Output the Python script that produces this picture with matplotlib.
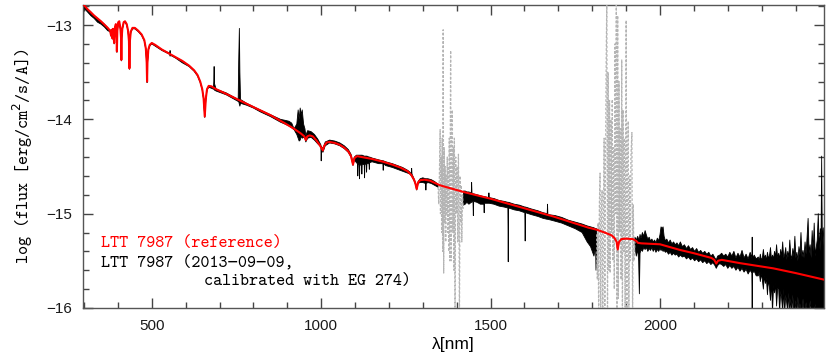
import numpy as np
import matplotlib
matplotlib.use("Agg")
import matplotlib.pyplot as plt
from matplotlib.ticker import MultipleLocator

plt.rcParams['font.family'] = ['Liberation Sans', 'DejaVu Sans']

# reference spectrum (red), wavelength in nm, log flux
red_wl = [298, 310, 330, 350, 370, 377, 379.8, 381.5, 383.5, 385.5, 388.9, 391.5,
          394, 395.8, 397.0, 398.3, 401, 404, 407.5, 409.3, 410.2, 411.1, 413, 417,
          421, 426, 430, 432.6, 434.0, 435.4, 438, 443, 450, 460, 470, 478, 482.5,
          485, 486.1, 487.2, 489.8, 494, 500, 510, 530, 550, 570, 590, 610, 625,
          635, 643, 649, 653, 656.3, 659.5, 663, 668, 676, 690, 720, 760, 800, 850,
          892, 920, 940, 950, 954.6, 959, 966, 975, 985, 995, 1000, 1004.9, 1009,
          1016, 1025, 1040, 1055, 1068, 1080, 1088, 1093.8, 1098, 1106, 1120, 1150,
          1183, 1210, 1233, 1255, 1266, 1274, 1278, 1281.8, 1286, 1292, 1305, 1321,
          1351, 1385, 1420, 1498, 1587, 1685, 1764, 1790, 1813, 1840, 1857, 1866,
          1872, 1875.1, 1879, 1886, 1900, 1920, 1930, 1935, 1945, 2000, 2059, 2100,
          2137, 2152, 2160, 2166, 2171, 2182, 2236, 2334, 2400, 2484]
red_flux = [-12.78, -12.83, -12.90, -12.96, -13.03, -13.06, -13.11, -13.05, -13.14,
            -13.04, -13.19, -13.02, -12.99, -13.06, -13.28, -13.06, -12.97, -12.96,
            -13.04, -13.14, -13.37, -13.14, -13.04, -12.97, -12.96, -12.99, -13.06,
            -13.17, -13.46, -13.17, -13.07, -13.03, -13.03, -13.06, -13.10, -13.16,
            -13.25, -13.40, -13.60, -13.40, -13.26, -13.21, -13.19, -13.21, -13.26,
            -13.30, -13.34, -13.38, -13.43, -13.48, -13.53, -13.60, -13.68, -13.78,
            -13.97, -13.78, -13.68, -13.645, -13.65, -13.68, -13.73, -13.80, -13.87,
            -13.955, -14.04, -14.10, -14.15, -14.18, -14.22, -14.18, -14.17, -14.18,
            -14.22, -14.27, -14.30, -14.33, -14.28, -14.245, -14.24, -14.25, -14.27,
            -14.30, -14.34, -14.39, -14.48, -14.41, -14.39, -14.40, -14.42, -14.45,
            -14.48, -14.51, -14.55, -14.59, -14.64, -14.68, -14.74, -14.67, -14.645,
            -14.64, -14.65, -14.70, -14.735, -14.77, -14.84, -14.93, -15.03, -15.12,
            -15.15, -15.17, -15.205, -15.23, -15.26, -15.30, -15.38, -15.30, -15.27,
            -15.265, -15.27, -15.29, -15.31, -15.315, -15.325, -15.385, -15.42,
            -15.455, -15.47, -15.49, -15.53, -15.50, -15.49, -15.525, -15.58, -15.63,
            -15.70]

# observed spectrum (black): upper and lower edge of the noise, nan = telluric gap
obs_wl = [298, 299.5, 310, 320, 330, 340, 350, 360, 370, 377,
          379.8, 381.5, 383.5, 385.5, 388.9, 391.5, 394, 395.8, 397.0, 398.3,
          401, 404, 407.5, 409.3, 410.2, 411.1, 413, 417, 421, 426,
          430, 432.6, 434.0, 435.4, 438, 443, 450, 460, 470, 478,
          482.5, 485, 486.1, 487.2, 489.8, 494, 500, 530, 553, 554,
          555, 570, 590, 610, 625, 635, 643, 649, 653, 656.3,
          659.5, 663, 668, 676, 682, 683, 684, 685, 690, 705,
          720, 740, 755, 756.5, 758.5, 760, 762, 780, 800, 820,
          850, 880, 893, 905, 913, 920, 928, 932, 935, 938,
          941, 944, 948, 952, 954.6, 960, 970, 980, 990, 999,
          1000, 1001, 1005, 1012, 1025, 1040, 1055, 1068, 1080, 1088,
          1093.8, 1098, 1104, 1107, 1108, 1109, 1112, 1113, 1114, 1119,
          1120, 1121, 1127, 1128, 1129, 1133, 1134, 1135, 1141, 1142,
          1143, 1150, 1160, 1170, 1182, 1183, 1184, 1190, 1210, 1225,
          1240, 1255, 1262, 1266, 1267, 1268, 1274, 1278, 1281.8, 1286,
          1292, 1300, 1308, 1309, 1310, 1315, 1325, 1335, 1345,
          np.nan,
          1420, 1425, 1430, 1436, 1443, 1444, 1445, 1448, 1449, 1450,
          1460, 1470, 1480, 1481, 1482, 1494, 1495, 1496, 1510, 1525,
          1540, 1551, 1552, 1553, 1570, 1585, 1601, 1602, 1603, 1620,
          1640, 1655, 1667, 1668, 1669, 1690, 1710, 1730, 1750, 1770,
          1785, 1795, 1805, 1810, 1811, 1813,
          np.nan,
          1926, 1930, 1934, 1937, 1939, 1941, 1944, 1948, 1952, 1956,
          1960, 1964, 1968, 1972, 1976, 1980, 1984, 1988, 1992, 1996,
          2000, 2003, 2006, 2009, 2012, 2016, 2020, 2025, 2030, 2035,
          2040, 2045, 2050, 2055, 2060, 2066, 2072, 2078, 2084, 2090,
          2096, 2102, 2108, 2114, 2120, 2126, 2132, 2138, 2144, 2150,
          2156, 2162, 2166, 2170, 2176, 2182, 2188, 2194, 2200, 2206,
          2212, 2218, 2224, 2230, 2236, 2242, 2248, 2254, 2260, 2266,
          2271, 2272, 2273, 2278, 2284,
          2290, 2293, 2296, 2299, 2302, 2305, 2308, 2311, 2314, 2317,
          2320, 2323, 2326, 2329, 2332, 2335, 2338, 2341, 2344, 2347,
          2350, 2353, 2356, 2359, 2362, 2365, 2368, 2371, 2374, 2377,
          2380, 2383, 2386, 2389, 2392, 2395, 2398, 2401, 2404, 2407,
          2410, 2413, 2416, 2419, 2422, 2425, 2428, 2431, 2434, 2437,
          2440, 2443, 2446, 2449, 2452, 2455, 2458, 2461, 2464, 2467,
          2470, 2473, 2475, 2477, 2479, 2482, 2484]
obs_hi = [-12.80, -12.79, -12.83, -12.86, -12.90, -12.93, -12.96, -12.99, -13.03, -13.06,
          -13.11, -13.05, -13.14, -13.04, -13.19, -13.02, -12.99, -13.06, -13.28, -13.06,
          -12.97, -12.96, -13.04, -13.14, -13.37, -13.14, -13.04, -12.97, -12.96, -12.99,
          -13.06, -13.17, -13.46, -13.17, -13.07, -13.03, -13.03, -13.06, -13.10, -13.16,
          -13.25, -13.40, -13.60, -13.40, -13.26, -13.21, -13.19, -13.26, -13.30, -13.27,
          -13.31, -13.34, -13.38, -13.43, -13.48, -13.53, -13.60, -13.68, -13.78, -13.97,
          -13.78, -13.68, -13.645, -13.65, -13.665, -13.60, -13.44, -13.62, -13.68, -13.70,
          -13.72, -13.76, -13.79, -13.40, -13.035, -13.50, -13.79, -13.83, -13.865, -13.90,
          -13.95, -14.00, -14.01, -14.02, -14.04, -14.10, -14.05, -13.90, -14.00, -13.88,
          -13.95, -13.90, -14.05, -14.10, -14.17, -14.12, -14.13, -14.16, -14.21, -14.27,
          -14.29, -14.29, -14.31, -14.24, -14.22, -14.23, -14.25, -14.28, -14.32, -14.37,
          -14.46, -14.40, -14.38, -14.38, -14.38, -14.38, -14.38, -14.38, -14.38, -14.38,
          -14.38, -14.38, -14.39, -14.39, -14.39, -14.39, -14.39, -14.39, -14.40, -14.40,
          -14.40, -14.41, -14.42, -14.43, -14.44, -14.44, -14.44, -14.45, -14.47, -14.49,
          -14.51, -14.54, -14.56, -14.58, -14.52, -14.58, -14.63, -14.67, -14.73, -14.66,
          -14.63, -14.62, -14.63, -14.63, -14.63, -14.63, -14.64, -14.66, -14.69,
          np.nan,
          -14.76, -14.76, -14.77, -14.77, -14.78, -14.67, -14.78, -14.79, -14.79, -14.79,
          -14.80, -14.81, -14.82, -14.82, -14.82, -14.83, -14.78, -14.83, -14.84, -14.86,
          -14.87, -14.88, -14.88, -14.88, -14.90, -14.91, -14.93, -14.93, -14.93, -14.95,
          -14.97, -14.99, -15.00, -14.90, -15.01, -15.02, -15.04, -15.07, -15.09, -15.11,
          -15.13, -15.14, -15.15, -15.16, -15.16, -15.16,
          np.nan,
          -15.25, -15.28, -15.24, -15.27, -15.27, -15.22, -15.26, -15.20, -15.24, -15.18,
          -15.23, -15.27, -15.25, -15.29, -15.27, -15.30, -15.28, -15.31, -15.26, -15.29,
          -15.22, -15.14, -15.16, -15.14, -15.24, -15.29, -15.27, -15.31, -15.28, -15.32,
          -15.30, -15.33, -15.31, -15.34, -15.30, -15.35, -15.33, -15.37, -15.34, -15.38,
          -15.36, -15.40, -15.37, -15.41, -15.39, -15.42, -15.40, -15.43, -15.41, -15.45,
          -15.43, -15.47, -15.49, -15.45, -15.44, -15.42, -15.45, -15.43, -15.46, -15.41,
          -15.45, -15.40, -15.47, -15.42, -15.46, -15.39, -15.47, -15.43, -15.48, -15.41,
          -15.47, -15.25, -15.47, -15.44, -15.48,
          -15.46, -15.50, -15.43, -15.49, -15.47, -15.38, -15.48, -15.44, -15.50, -15.41,
          -15.47, -15.45, -15.36, -15.49, -15.44, -15.48, -15.40, -15.46, -15.33, -15.47,
          -15.42, -15.48, -15.38, -15.45, -15.30, -15.47, -15.43, -15.36, -15.49, -15.40,
          -15.46, -15.28, -15.44, -15.48, -15.37, -15.45, -15.24, -15.47, -15.41, -15.50,
          -15.35, -15.44, -15.20, -15.46, -15.39, -15.47, -15.30, -15.43, -15.25, -15.05,
          -15.42, -15.33, -15.47, -15.18, -15.40, -15.10, -15.45, -15.36, -15.28, -15.00,
          -15.38, -15.16, -15.40, -14.39, -15.30, -15.15, -15.35]
obs_lo = [-13.76, -12.82, -12.86, -12.90, -12.93, -12.97, -12.99, -13.02, -13.06, -13.07,
          -13.12, -13.06, -13.15, -13.05, -13.20, -13.03, -13.00, -13.07, -13.29, -13.07,
          -12.98, -12.97, -13.05, -13.15, -13.38, -13.15, -13.05, -12.98, -12.97, -13.00,
          -13.07, -13.18, -13.47, -13.18, -13.08, -13.04, -13.04, -13.07, -13.11, -13.17,
          -13.26, -13.41, -13.61, -13.41, -13.27, -13.22, -13.20, -13.27, -13.31, -13.33,
          -13.32, -13.35, -13.40, -13.44, -13.49, -13.54, -13.61, -13.69, -13.79, -13.98,
          -13.79, -13.69, -13.66, -13.67, -13.68, -13.68, -13.68, -13.69, -13.70, -13.72,
          -13.74, -13.78, -13.81, -13.81, -13.84, -13.86, -13.83, -13.85, -13.88, -13.92,
          -13.97, -14.03, -14.05, -14.07, -14.09, -14.11, -14.16, -14.20, -14.23, -14.22,
          -14.18, -14.20, -14.19, -14.20, -14.24, -14.20, -14.19, -14.22, -14.26, -14.29,
          -14.44, -14.31, -14.35, -14.28, -14.25, -14.26, -14.28, -14.31, -14.35, -14.40,
          -14.49, -14.43, -14.46, -14.47, -14.60, -14.47, -14.48, -14.63, -14.48, -14.49,
          -14.58, -14.48, -14.48, -14.62, -14.48, -14.47, -14.56, -14.47, -14.47, -14.53,
          -14.46, -14.45, -14.46, -14.47, -14.47, -14.54, -14.47, -14.49, -14.51, -14.53,
          -14.55, -14.57, -14.58, -14.60, -14.60, -14.61, -14.65, -14.69, -14.75, -14.68,
          -14.67, -14.67, -14.68, -14.75, -14.68, -14.67, -14.68, -14.70, -14.72,
          np.nan,
          -14.91, -14.90, -14.88, -14.90, -14.88, -14.88, -14.87, -14.88, -15.02, -14.87,
          -14.88, -14.90, -14.90, -14.99, -14.89, -14.89, -14.89, -14.89, -14.90, -14.92,
          -14.93, -14.94, -15.51, -14.94, -14.96, -14.97, -14.99, -15.29, -14.99, -15.01,
          -15.03, -15.05, -15.06, -15.06, -15.06, -15.08, -15.10, -15.13, -15.16, -15.20,
          -15.30, -15.35, -15.45, -15.35, -15.60, -15.30,
          np.nan,
          -15.35, -15.45, -15.38, -15.50, -15.85, -15.42, -15.38, -15.40, -15.36, -15.38,
          -15.36, -15.40, -15.37, -15.39, -15.36, -15.40, -15.37, -15.41, -15.38, -15.40,
          -15.37, -15.39, -15.38, -15.40, -15.39, -15.41, -15.40, -15.43, -15.41, -15.44,
          -15.42, -15.44, -15.43, -15.46, -15.44, -15.46, -15.45, -15.48, -15.46, -15.49,
          -15.47, -15.50, -15.48, -15.51, -15.49, -15.52, -15.50, -15.53, -15.51, -15.54,
          -15.52, -15.55, -15.58, -15.55, -15.53, -15.54, -15.56, -15.54, -15.58, -15.55,
          -15.58, -15.56, -15.60, -15.57, -15.61, -15.58, -15.62, -15.59, -15.64, -15.60,
          -15.63, -16.05, -15.63, -15.61, -15.66,
          -15.66, -15.62, -15.72, -15.64, -15.70, -15.80, -15.66, -15.74, -15.68, -15.86,
          -15.70, -15.78, -15.92, -15.72, -16.05, -15.76, -15.84, -15.74, -15.98, -15.80,
          -15.78, -16.05, -15.82, -15.90, -16.05, -15.80, -16.05, -15.86, -15.95, -16.05,
          -15.84, -16.05, -15.90, -16.05, -15.86, -16.05, -16.05, -15.92, -16.05, -15.88,
          -16.05, -15.95, -16.05, -16.05, -15.90, -16.05, -16.05, -15.94, -16.05, -16.05,
          -16.05, -15.92, -16.05, -16.05, -16.05, -16.05, -15.96, -16.05, -16.05, -16.05,
          -16.05, -16.05, -16.05, -16.05, -16.05, -16.05, -16.05]

# observed spectrum inside the two telluric bands (grey, dashed)
tell1_wl = [1345, 1347, 1349, 1351, 1352, 1354, 1355.5, 1357, 1358.5, 1360, 1361.5,
            1363, 1364.5, 1366, 1367.5, 1369, 1370.5, 1372, 1373.5, 1375, 1376.5,
            1378, 1379.5, 1382, 1383.5, 1385, 1387, 1388.5, 1390, 1391.5, 1393, 1395,
            1397, 1399, 1401, 1403, 1405, 1406.5, 1408, 1410, 1412, 1413.5, 1415,
            1417, 1419]
tell1_flux = [-14.72, -14.90, -14.55, -14.11, -15.00, -14.40, -15.20, -14.20, -15.40,
              -13.05, -15.63, -14.30, -15.10, -14.50, -15.30, -14.60, -15.00, -14.40,
              -15.20, -14.50, -15.40, -14.20, -15.50, -13.27, -15.50, -14.00, -13.90,
              -15.20, -14.30, -15.60, -14.20, -16.10, -14.40, -15.00, -14.50, -15.30,
              -14.37, -15.00, -16.10, -14.60, -15.10, -14.70, -15.30, -14.80, -14.95]
tell2_wl = [1813, 1815, 1817, 1819, 1821, 1823, 1825, 1827, 1829, 1831, 1833, 1835,
            1837, 1839, 1841, 1843, 1845, 1847, 1849, 1851, 1853, 1855, 1857, 1859,
            1861, 1863, 1865, 1867, 1869, 1871, 1873, 1875, 1877, 1879, 1881, 1883,
            1885, 1887, 1889, 1891, 1893, 1895, 1897, 1900, 1902, 1904, 1906, 1908,
            1910, 1912, 1914, 1917, 1919, 1921, 1923, 1926]
tell2_flux = [-15.22, -15.70, -15.10, -16.10, -14.90, -14.57, -16.10, -15.00, -14.75,
              -16.10, -15.20, -14.20, -16.10, -14.60, -13.40, -12.70, -16.10, -13.50,
              -15.60, -13.80, -15.63, -14.00, -15.20, -13.79, -15.50, -14.30, -15.80,
              -13.20, -15.00, -12.70, -16.10, -12.90, -15.90, -13.60, -15.20, -14.10,
              -15.70, -13.37, -16.10, -13.90, -15.40, -14.20, -16.10, -12.95, -16.10,
              -14.50, -14.02, -16.10, -14.60, -15.50, -14.40, -14.14, -16.10, -14.90,
              -15.50, -15.30]

fig = plt.figure(figsize=(8.3, 3.61), dpi=100)
ax = fig.add_axes([0.1, 0.147, 0.8928, 0.840])

ax.fill_between(obs_wl, obs_lo, obs_hi, color='black', lw=0.6, zorder=2)
ax.plot(tell1_wl, tell1_flux, color='#b4b4b4', lw=0.9, ls=(0, (2, 1.4)), zorder=3)
ax.plot(tell2_wl, tell2_flux, color='#b4b4b4', lw=0.9, ls=(0, (2, 1.4)), zorder=3)
ax.plot(red_wl, red_flux, color='#ff0000', lw=1.5, zorder=4)

ax.set_xlim(297, 2484)
ax.set_ylim(-16, -12.784)
ax.xaxis.set_major_locator(MultipleLocator(500))
ax.xaxis.set_minor_locator(MultipleLocator(100))
ax.yaxis.set_major_locator(MultipleLocator(1))
ax.yaxis.set_minor_locator(MultipleLocator(0.2))
ax.tick_params(which='both', direction='in', top=True, right=True,
               color='#444444', width=1.0, labelsize=11, labelcolor='#1a1a1a')
ax.tick_params(which='major', length=7, pad=8)
ax.tick_params(which='minor', length=4)
for s in ax.spines.values():
    s.set_color('#555555')
    s.set_linewidth(1.0)

tt = ['cmtt10', 'DejaVu Sans Mono']
ax.set_xlabel('λ[nm]', fontsize=12.5, labelpad=3)
ax.set_ylabel('log (flux [erg/cm$^2$/s/A])', family=tt, fontsize=12.4, labelpad=8)

ax.text(0.024, 0.202, 'LTT 7987 (reference)', color='#ff0000',
        family=tt, fontsize=12.4, transform=ax.transAxes)
ax.text(0.024, 0.138, 'LTT 7987 (2013\u221209\u221209,', color='black',
        family=tt, fontsize=12.4, transform=ax.transAxes)
ax.text(0.163, 0.076, 'calibrated with EG 274)', color='black',
        family=tt, fontsize=12.4, transform=ax.transAxes)

fig.savefig('out.png', dpi=100)
